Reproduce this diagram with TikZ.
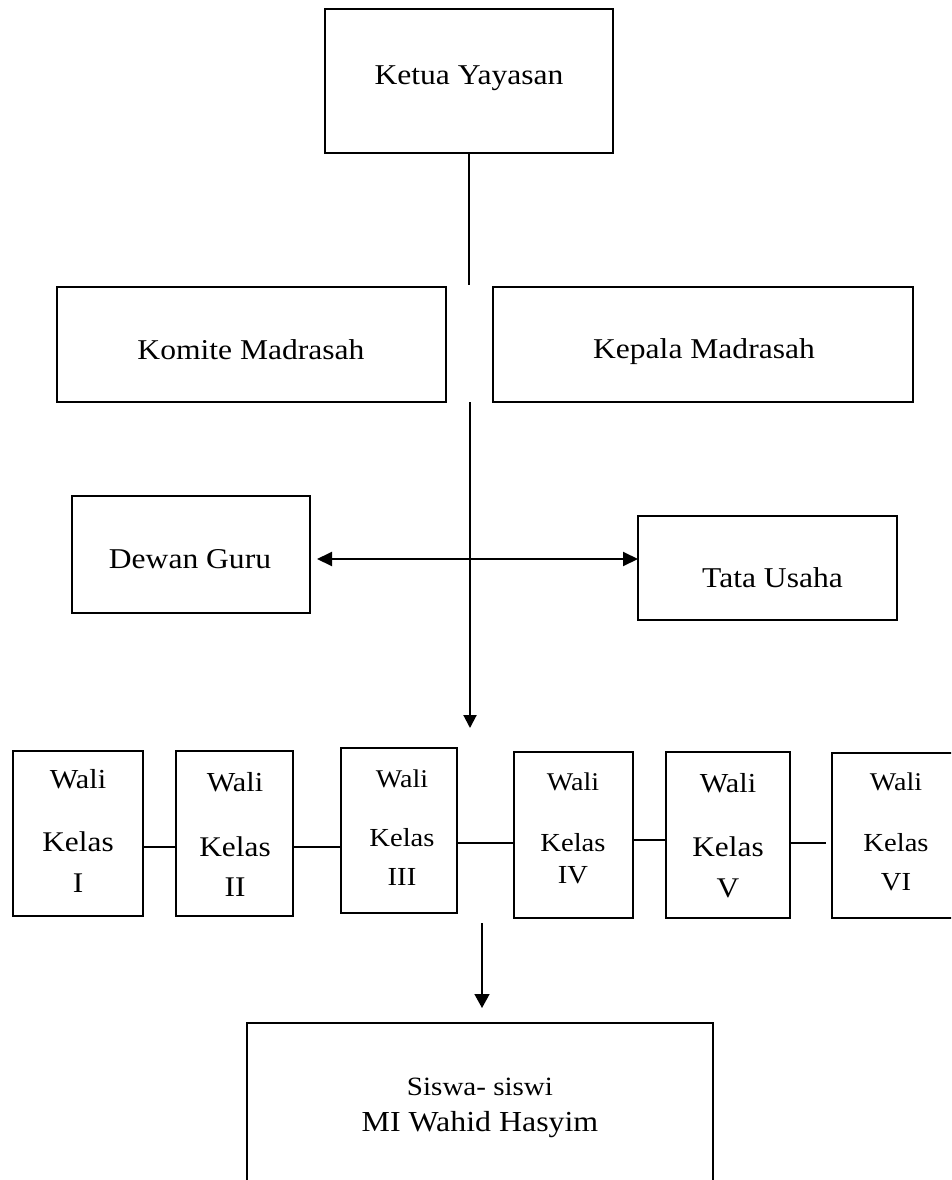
\documentclass[tikz,border=0pt]{standalone}
\usepackage{fontspec}
\setmainfont[FakeStretch=1.1]{Liberation Serif}
\usetikzlibrary{arrows.meta}
\begin{document}
\begin{tikzpicture}[x=1pt,y=-1pt,
  box/.style={draw, line width=1.3pt, inner sep=0pt},
  txt/.style={inner sep=0pt, anchor=base, font=\fontsize{28.7}{34}\selectfont},
  wtxtA/.style={inner sep=0pt, align=center, font=\fontsize{28.5}{41}\selectfont},
  wtxtB/.style={inner sep=0pt, align=center, font=\fontsize{26}{39}\selectfont},
  link/.style={line width=1.5pt},
  main/.style={line width=2pt},
  tip/.style={-{Triangle[length=13pt,width=13pt]}},
  dtip/.style={{Triangle[length=15pt,width=14pt]}-{Triangle[length=15pt,width=14pt]}}]
\clip (0,0) rectangle (951,1180);

% boxes
\node[box, minimum width=288pt, minimum height=144pt] (ketua) at (469,81) {};
\node[box, minimum width=389pt, minimum height=115pt] (komite) at (251.5,344.5) {};
\node[box, minimum width=420pt, minimum height=115pt] (kepala) at (703,344.5) {};
\node[box, minimum width=238pt, minimum height=117pt] (dewan) at (191,554.5) {};
\node[box, minimum width=259pt, minimum height=104pt] (tata) at (767.5,568) {};
\node[box, minimum width=130pt, minimum height=165pt] (w1) at (78,833.5) {};
\node[box, minimum width=117pt, minimum height=165pt] (w2) at (234.5,833.5) {};
\node[box, minimum width=116pt, minimum height=165pt] (w3) at (399,830.5) {};
\node[box, minimum width=119pt, minimum height=166pt] (w4) at (573.5,835) {};
\node[box, minimum width=124pt, minimum height=166pt] (w5) at (728,835) {};
\node[box, minimum width=128pt, minimum height=165pt] (w6) at (896,835.5) {};
\node[box, minimum width=466pt, minimum height=177pt] (siswa) at (480,1111.5) {};

% texts
\node[txt] (ketuaT) at (469,84.5) {Ketua Yayasan};
\node[txt] (komiteT) at (251,359.5) {Komite Madrasah};
\node[txt] (kepalaT) at (704,358.5) {Kepala Madrasah};
\node[txt] (dewanT) at (190,568.3) {Dewan Guru};
\node[txt] (tataT) at (772.5,587.3) {Tata Usaha};

\node[wtxtA] (w1T) at (78,830.9) {{\fontsize{27.5}{41}\selectfont Wali}\\[22pt]Kelas\\I};
\node[wtxtA] (w2T) at (235,834) {{\fontsize{27.5}{41}\selectfont Wali}\\[24pt]Kelas\\[-1pt]II};
\node[wtxtB] (w3T) at (402,827.7) {{\fontsize{25.5}{39}\selectfont Wali}\\[20pt]Kelas\\III};
\node[wtxtB] (w4T) at (573,828.3) {{\fontsize{25.5}{39}\selectfont Wali}\\[22pt]Kelas\\[-7pt]IV};
\node[wtxtA] (w5T) at (728,835.4) {{\fontsize{27.5}{41}\selectfont Wali}\\[23pt]Kelas\\V};
\node[wtxtB] (w6T) at (896,831.8) {{\fontsize{25.5}{39}\selectfont Wali}\\[22pt]Kelas\\VI};

\node[inner sep=0pt, align=center, font=\fontsize{29}{36.2}\selectfont] (siswaT) at (480,1108.2)
  {{\fontsize{26.4}{36.2}\selectfont Siswa- siswi}\\MI Wahid Hasyim};

% connectors
\coordinate (gapTop) at (469,285);
\draw[line width=1.3pt] (ketua.south) -- (gapTop);

\coordinate (mainStart) at (470,402);
\coordinate (mainEnd) at (470,728);
\draw[main, tip] (mainStart) -- (mainEnd);

\coordinate (hl) at (317,559);
\coordinate (hr) at (638,559);
\draw[main, dtip] (hl) -- (hr);

\draw[link] (w1.east |- 0,847) -- (w2.west |- 0,847);
\draw[link] (w2.east |- 0,847) -- (w3.west |- 0,847);
\draw[link] (w3.east |- 0,843) -- (w4.west |- 0,843);
\draw[link] (w4.east |- 0,840) -- (w5.west |- 0,840);
\coordinate (w56end) at (826,843);
\draw[link] (w5.east |- 0,843) -- (w56end);

\coordinate (sStart) at (482,923);
\coordinate (sEnd) at (482,1008);
\draw[link, -{Triangle[length=14pt,width=15pt]}] (sStart) -- (sEnd);
\end{tikzpicture}
\end{document}
